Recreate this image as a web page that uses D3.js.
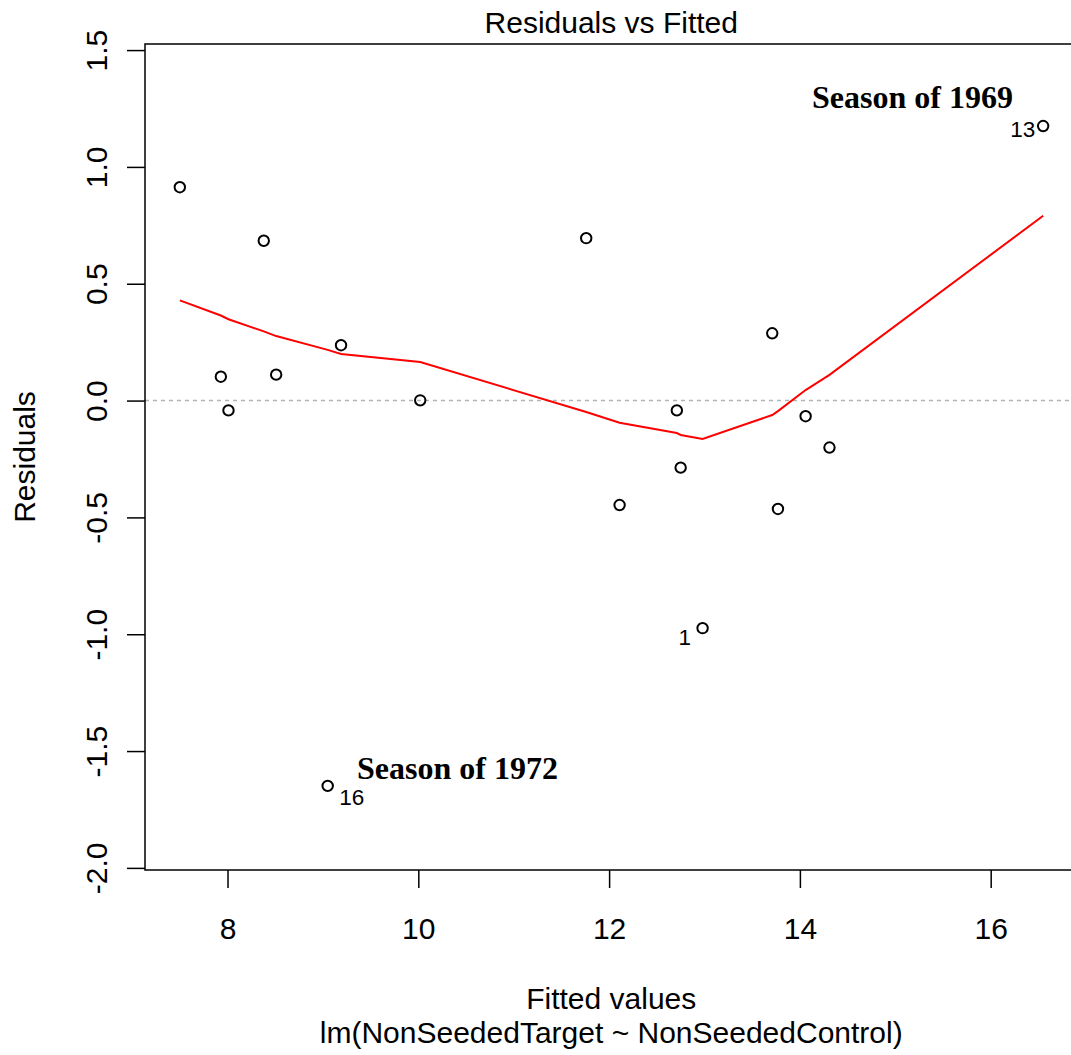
<!DOCTYPE html>
<html>
<head>
<meta charset="utf-8">
<script src="https://cdn.jsdelivr.net/npm/d3@7"></script>
<style>
  body { margin: 0; background: #fff; }
  svg { display: block; }
  text { font-family: "Liberation Sans", Arial, sans-serif; fill: #000; }
  .note { font-family: "Liberation Serif", "Times New Roman", serif; font-weight: bold; }
</style>
</head>
<body>
<div id="chart"></div>
<script>
// fitted values and residuals (sorted by fitted value)
var fitted    = [7.50, 7.93, 8.01, 8.38, 8.51, 9.05, 9.19, 10.02, 11.76, 12.11, 12.71, 12.75, 12.98, 13.71, 13.77, 14.06, 14.31, 16.55];
var residuals = [0.913, 0.102, -0.042, 0.684, 0.111, -1.649, 0.237, 0.001, 0.695, -0.447, -0.042, -0.287, -0.974, 0.288, -0.464, -0.067, -0.201, 1.175];
var idLabels  = ["", "", "", "", "", "16", "", "", "", "", "", "", "1", "", "", "", "", "13"];

// lowess smoother, evaluated at the fitted values
var smoothY = [0.429, 0.364, 0.348, 0.296, 0.276, 0.217, 0.199, 0.165, -0.049, -0.095, -0.139, -0.147, -0.164, -0.062, -0.045, 0.045, 0.110, 0.791];

var xTicks = [8, 10, 12, 14, 16];
var yTicks = [-2.0, -1.5, -1.0, -0.5, 0.0, 0.5, 1.0, 1.5];

var noteText = ["Season of 1969", "Season of 1972"];
var noteX = [15.18, 10.41];
var noteY = [1.297, -1.574];

var title = "Residuals vs Fitted";
var xLabel = "Fitted values";
var subLabel = "lm(NonSeededTarget ~ NonSeededControl)";
var yLabel = "Residuals";

var svgWidth = 1071, svgHeight = 1055;
var box = { left: 145, right: 1077.5, top: 44, bottom: 870 };

var svg = d3.select("#chart").append("svg")
  .attr("width", svgWidth)
  .attr("height", svgHeight);

// scales (plot region = data range + 4%)
var x = d3.scaleLinear().domain([7.135, 16.91]).range([box.left, box.right]);
var y = d3.scaleLinear().domain([-2.009, 1.526]).range([box.bottom, box.top]);

// zero reference line
svg.append("line")
  .attr("x1", box.left).attr("x2", box.right)
  .attr("y1", y(0)).attr("y2", y(0))
  .attr("stroke", "#b4b4b4")
  .attr("stroke-width", 1.6)
  .attr("stroke-dasharray", "4,4");

// points
svg.append("g").selectAll("circle")
  .data(fitted)
  .enter()
  .append("circle")
  .attr("cx", function(d) { return x(d); })
  .attr("cy", function(d, i) { return y(residuals[i]); })
  .attr("r", 5.2)
  .attr("fill", "none")
  .attr("stroke", "#000")
  .attr("stroke-width", 2);

// smoother
var line = d3.line()
  .x(function(d) { return x(d); })
  .y(function(d, i) { return y(smoothY[i]); });

svg.append("path")
  .datum(fitted)
  .attr("d", line)
  .attr("fill", "none")
  .attr("stroke", "#ff0000")
  .attr("stroke-width", 2);

// id labels next to the extreme points
var nudge = { "13": [-8, 11, "end"], "1": [-11.5, 17, "end"], "16": [11.5, 19, "start"] };
fitted.forEach(function(d, i) {
  var id = idLabels[i];
  if (!id) return;
  var n = nudge[id];
  svg.append("text")
    .attr("x", x(d) + n[0])
    .attr("y", y(residuals[i]) + n[1])
    .attr("text-anchor", n[2])
    .attr("font-size", "22.5px")
    .text(id);
});

// annotations
svg.append("g").selectAll("text")
  .data(noteText)
  .enter()
  .append("text")
  .attr("class", "note")
  .attr("x", function(d, i) { return x(noteX[i]); })
  .attr("y", function(d, i) { return y(noteY[i]); })
  .attr("dy", "0.33em")
  .attr("text-anchor", "middle")
  .attr("font-size", "32px")
  .text(function(d) { return d; });

// box
svg.append("rect")
  .attr("x", box.left).attr("y", box.top)
  .attr("width", box.right - box.left)
  .attr("height", box.bottom - box.top)
  .attr("fill", "none")
  .attr("stroke", "#000")
  .attr("stroke-width", 1.5);

// axes
var bottomAxis = d3.axisBottom(x).tickValues(xTicks).tickSize(18).tickSizeOuter(0)
  .tickFormat(function(d) { return String(d); });
var leftAxis = d3.axisLeft(y).tickValues(yTicks).tickSize(18).tickSizeOuter(0)
  .tickFormat(function(d) { return d.toFixed(1); });

var gx = svg.append("g")
  .attr("transform", "translate(0," + box.bottom + ")")
  .call(bottomAxis);
gx.select(".domain").remove();
gx.selectAll("line").attr("stroke-width", 1.5);
gx.selectAll("text")
  .attr("y", 69).attr("dy", 0)
  .attr("font-size", "30px")
  .attr("font-family", "Liberation Sans, Arial, sans-serif")
  .attr("fill", "#000");

var gy = svg.append("g")
  .attr("transform", "translate(" + box.left + ",0)")
  .call(leftAxis);
gy.select(".domain").remove();
gy.selectAll("line").attr("stroke-width", 1.5);
gy.selectAll("text")
  .attr("x", 0).attr("y", -38).attr("dy", 0)
  .attr("transform", "rotate(-90)")
  .attr("text-anchor", "middle")
  .attr("font-size", "30px")
  .attr("font-family", "Liberation Sans, Arial, sans-serif")
  .attr("fill", "#000");

// titles
var midX = (box.left + box.right) / 2;
svg.append("text")
  .attr("x", midX).attr("y", 33)
  .attr("text-anchor", "middle")
  .attr("font-size", "30px")
  .text(title);

svg.append("text")
  .attr("x", midX).attr("y", 1009)
  .attr("text-anchor", "middle")
  .attr("font-size", "30px")
  .text(xLabel);

svg.append("text")
  .attr("x", midX).attr("y", 1043)
  .attr("text-anchor", "middle")
  .attr("font-size", "30px")
  .text(subLabel);

svg.append("text")
  .attr("transform", "translate(35," + ((box.top + box.bottom) / 2) + ") rotate(-90)")
  .attr("text-anchor", "middle")
  .attr("font-size", "30px")
  .text(yLabel);
</script>
</body>
</html>
